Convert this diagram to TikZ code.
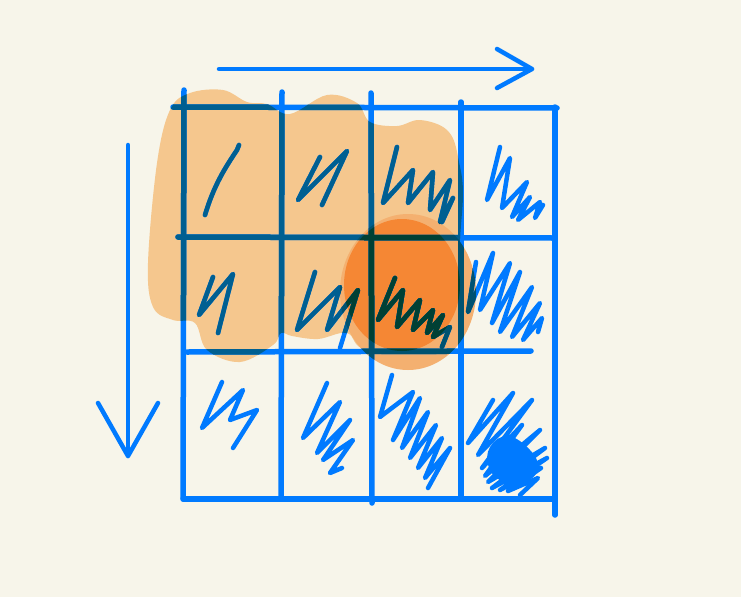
\documentclass[tikz,border=0pt]{standalone}
\usepackage{tikz}
\usetikzlibrary{arrows.meta}
\definecolor{paper}{RGB}{247,245,234}
\definecolor{pen}{RGB}{0,122,255}
\definecolor{marklight}{RGB}{245,199,142}
\definecolor{markhalo}{RGB}{244,176,112}
\definecolor{markdark}{RGB}{245,135,52}
\definecolor{penlight}{RGB}{0,95,145}
\definecolor{penhalo}{RGB}{0,82,112}
\definecolor{pendark}{RGB}{0,64,52}
\colorlet{inkcol}{pen}

% everything drawn in ink inside the grid
\newcommand{\gridink}{%
    \draw[gridline] (184,90) -- (183,498);
    \draw[gridline] (282,92) -- (281,497);
    \draw[gridline] (371,93) -- (372,503);
    \draw[gridline] (461,102) -- (461,497);
    \draw[gridline] (555,107) -- (555,515);
    \draw[gridline] (173,107) -- (557,108);
    \draw[gridline] (178,237) -- (553,238);
    \draw[gridline] (187,352) -- (531,351);
    \draw[gridline] (183,499) -- (553,499);
    % row 1
    \draw[scribble] (205,215) .. controls (214,185) and (225,168) .. (237,150) -- (239,145);
    \draw[scribble] (320,157) -- (298,200) -- (347,151) -- (322,205);
    \draw[scribble] (397,147) -- (383,203) -- (413,170) -- (408,203) -- (433,172)
        -- (430,210) -- (450,180) -- (440,222) -- (453,198) -- (442,222);
    \draw[scribble] (500,147) -- (487,200) -- (510,158) -- (502,208) -- (527,182)
        -- (512,217) -- (530,197) -- (518,220) -- (540,202) -- (535,218) -- (543,205);
    % row 2
    \draw[scribble] (213,277) -- (199,315) -- (233,274) -- (218,333);
    \draw[scribble] (315,272) -- (297,330) -- (340,287) -- (327,330) -- (358,290)
        -- (340,348);
    \draw[scribble] (395,278) -- (378,320) -- (403,290) -- (397,327) -- (420,300)
        -- (413,330) -- (433,310) -- (427,333) -- (443,315) -- (433,337)
        -- (450,327) -- (442,347);
    \draw[scribble] (476,262) -- (468,312) -- (493,253) -- (480,310) -- (510,263)
        -- (492,323) -- (520,272) -- (500,332) -- (532,287) -- (512,337)
        -- (540,303) -- (523,340) -- (542,318) -- (538,332);
    % row 3
    \draw[scribble] (222,382) -- (202,428) -- (243,390) -- (230,420) -- (257,410) -- (233,448);
    \draw[scribble] (327,383) -- (303,438) -- (340,402) -- (317,453) -- (350,420)
        -- (323,460) -- (353,440) -- (330,473) -- (342,468);
    \draw[scribble] (392,375) -- (380,417) -- (413,392) -- (393,440) -- (420,398)
        -- (402,448) -- (428,412) -- (410,458) -- (436,425) -- (418,468)
        -- (442,438) -- (425,478) -- (450,448) -- (428,488);
    \draw[scribble] (493,400) -- (468,443) -- (513,393) -- (478,455) -- (532,400)
        -- (482,468) -- (522,425) -- (485,476) -- (540,430) -- (488,482)
        -- (545,448) -- (492,488) -- (547,458) -- (500,490) -- (541,468)
        -- (508,491) -- (538,478) -- (520,495);
    \fill[inkcol] plot[smooth cycle, tension=0.7] coordinates {
        (490,447) (508,436) (530,450) (538,468) (526,482) (504,482) (489,468)};
}
\newcommand{\lightmark}{plot[smooth cycle, tension=0.6] coordinates {
    (190,93) (223,90) (247,102) (267,104) (290,114) (327,95) (357,103)
    (370,122) (397,126) (420,120) (447,130) (458,157) (462,213)
    (440,350) (367,350) (347,333) (318,339) (292,336) (281,333) (273,345)
    (240,362) (207,350) (195,323) (173,320) (153,307) (148,263) (157,163) (170,110)}}
\newcommand{\halomark}{(408,292) ellipse (68 and 78)}
\newcommand{\darkmark}{(402,285) ellipse (58 and 66)}

\begin{document}
\begin{tikzpicture}[x=1pt, y=-1pt, line cap=round, line join=round]
    \tikzstyle{gridline}=[draw=inkcol, line width=5.5pt]
    \tikzstyle{scribble}=[draw=inkcol, line width=4.5pt]
    \tikzstyle{arrowline}=[draw=pen, line width=4.5pt]

    \useasboundingbox[fill=paper] (0,0) rectangle (741,597);

    % highlights
    \fill[marklight] \lightmark;
    \fill[markhalo] \halomark;
    \fill[markdark] \darkmark;

    % arrows
    \coordinate (rowstart) at (219,69);
    \coordinate (rowend) at (532,69);
    \draw[arrowline] (rowstart) -- (rowend);
    \draw[arrowline] (497,49) -- (rowend) -- (497,88);
    \coordinate (colstart) at (128,145);
    \coordinate (colend) at (128,456);
    \draw[arrowline] (colstart) -- (colend);
    \draw[arrowline] (98,403) -- (colend) -- (158,403);

    % grid and scribbles, darker where the marker covers them
    \gridink
    \begin{scope}
        \clip \lightmark;
        \colorlet{inkcol}{penlight}
        \gridink
    \end{scope}
    \begin{scope}
        \clip \halomark;
        \colorlet{inkcol}{penhalo}
        \gridink
    \end{scope}
    \begin{scope}
        \clip \darkmark;
        \colorlet{inkcol}{pendark}
        \gridink
    \end{scope}
\end{tikzpicture}
\end{document}
